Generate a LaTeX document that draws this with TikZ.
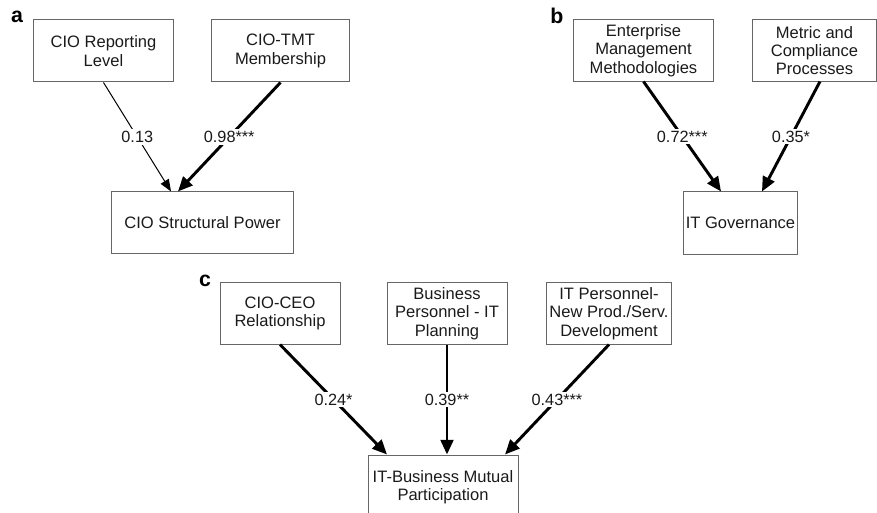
\documentclass[tikz,border=0pt]{standalone}
\usepackage{fontspec}
\setmainfont{Liberation Sans}
\usepackage{xcolor}
\usetikzlibrary{positioning, arrows.meta}

\definecolor{boxline}{HTML}{666666}
\definecolor{ink}{HTML}{1A1A1A}

\begin{document}
\begin{tikzpicture}[x=0.75pt, y=-0.75pt,
    box/.style={rectangle, draw=boxline, line width=0.75pt, align=center, text=ink,
        inner sep=2pt, font=\fontsize{12.4}{13.8}\selectfont},
    coef/.style={fill=white, inner sep=1.5pt, anchor=center, text=ink, font=\fontsize{12.2}{13}\selectfont},
    tag/.style={font=\fontsize{16}{18}\selectfont\bfseries},
    weak/.style={line width=0.75pt, -{Triangle[length=9pt, width=7pt]}},
    strong/.style={line width=2.2pt, -{Triangle[length=11pt, width=9.5pt]}}]
    \useasboundingbox (0,0) rectangle (877,513);

    % panel a
    \node (taga) [tag] at (17,17) {a};
    \node (rep) [box, minimum width=104.3pt, minimum height=46.5pt] at (103.5,51) {CIO Reporting\\Level};
    \node (tmt) [box, minimum width=102.8pt, minimum height=46.5pt] at (280.5,51) {CIO-TMT\\Membership};
    \node (power) [box, minimum width=135.8pt, minimum height=45.8pt] at (202.5,222.5) {CIO Structural Power};

    \draw[weak] (rep.south) -- node[coef] {0.13} ([xshift=-23.6pt]power.north);
    \draw[strong] (tmt.south) -- node[coef] {0.98***} ([xshift=-18.4pt]power.north);

    % panel b
    \node (tagb) [tag] at (557,16) {b};
    \node (emm) [box, minimum width=104.3pt, minimum height=45.8pt] at (643.5,50.5) {Enterprise\\Management\\Methodologies};
    \node (mcp) [box, minimum width=92.3pt, minimum height=45.8pt] at (814.5,50.5) {Metric and\\Compliance\\Processes};
    \node (gov) [box, minimum width=84.8pt, minimum height=46.5pt] at (740.5,223) {IT Governance};

    \draw[strong] (emm.south) -- node[coef] {0.72***} ([xshift=-14.6pt]gov.north);
    \draw[strong] ([xshift=4.1pt]mcp.south) -- node[coef] {0.35*} ([xshift=16.1pt]gov.north);

    % panel c
    \node (tagc) [tag] at (205,281) {c};
    \node (ceo) [box, minimum width=90pt, minimum height=45.8pt] at (280,313.5) {CIO-CEO\\Relationship};
    \node (bus) [box, minimum width=90pt, minimum height=45.8pt] at (447,313.5) {Business\\Personnel - IT\\Planning};
    \node (itp) [box, minimum width=87pt, minimum height=45.8pt] at (609,313.5) {IT Personnel-\\New Prod./Serv.\\Development};
    \node (mutual) [box, minimum width=112.5pt, minimum height=48pt] at (443,487) {IT-Business Mutual\\Participation};

    \draw[strong] (ceo.south) -- node[coef] {0.24*} ([xshift=-42pt]mutual.north);
    \draw[strong] (bus.south) -- node[coef] {0.39**} ([xshift=3pt]mutual.north);
    \draw[strong] (itp.south) -- node[coef] {0.43***} ([xshift=46.5pt]mutual.north);
\end{tikzpicture}
\end{document}
